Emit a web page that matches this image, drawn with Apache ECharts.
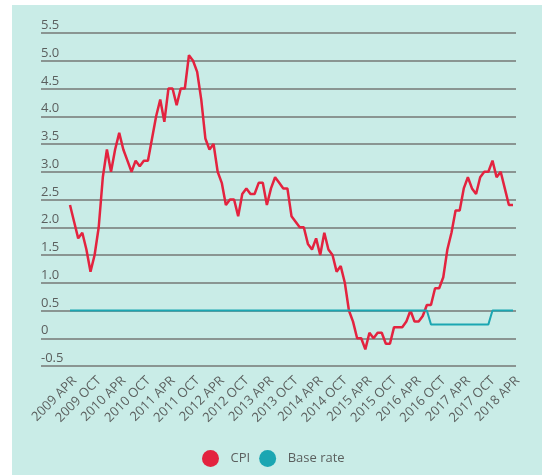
<!DOCTYPE html>
<html><head><meta charset="utf-8">
<script src="https://cdn.jsdelivr.net/npm/echarts@6/dist/echarts.min.js"></script>
<style>
html,body{margin:0;padding:0;background:#fff;width:542px;height:475px;overflow:hidden}
#c{position:absolute;left:12px;top:5px;width:530px;height:470px;background:#c9ece7}
</style></head><body><div id="c"></div>
<script>
// Monthly categories, April 2009 to April 2018
const MONTHS = ['JAN','FEB','MAR','APR','MAY','JUN','JUL','AUG','SEP','OCT','NOV','DEC'];
const categories = [];
for (let k = 0; k < 109; k++) {
  const m = 3 + k;
  categories.push((2009 + Math.floor(m / 12)) + ' ' + MONTHS[m % 12]);
}
const tickLabels = ['2009 APR','2009 OCT','2010 APR','2010 OCT','2011 APR','2011 OCT','2012 APR','2012 OCT',
  '2013 APR','2013 OCT','2014 APR','2014 OCT','2015 APR','2015 OCT','2016 APR','2016 OCT','2017 APR','2017 OCT','2018 APR'];
const cpi = [
  2.4,2.1,1.8,1.9,1.6,1.2,1.5,2.0,2.9,
  3.4,3.0,3.4,3.7,3.4,3.2,3.0,3.2,3.1,3.2,3.2,3.6,
  4.0,4.3,3.9,4.5,4.5,4.2,4.5,4.5,5.1,5.0,4.8,4.3,
  3.6,3.4,3.5,3.0,2.8,2.4,2.5,2.5,2.2,2.6,2.7,2.6,
  2.6,2.8,2.8,2.4,2.7,2.9,2.8,2.7,2.7,2.2,2.1,2.0,
  2.0,1.7,1.6,1.8,1.5,1.9,1.6,1.5,1.2,1.3,1.0,0.5,
  0.3,0.0,0.0,-0.2,0.1,0.0,0.1,0.1,-0.1,-0.1,0.2,0.2,
  0.2,0.3,0.5,0.3,0.3,0.4,0.6,0.6,0.9,0.9,1.1,1.6,
  1.9,2.3,2.3,2.7,2.9,2.7,2.6,2.9,3.0,3.0,3.2,2.9,
  3.0,2.7,2.4,2.4
];
const baseRate = [];
for (let k = 0; k < 109; k++) baseRate.push(k >= 88 && k <= 102 ? 0.25 : 0.5);
const yTicks = [-0.5, 0, 0.5, 1, 1.5, 2, 2.5, 3, 3.5, 4, 4.5, 5, 5.5];

const FONT = 'Open Sans';
const TXT = '#5b5f5e';
const chart = echarts.init(document.getElementById('c'), null, {renderer: 'canvas'});
chart.setOption({
  animation: false,
  grid: [
    {left: 29, right: 26, top: 28, bottom: 109},
    {left: 58, right: 29, top: 28, bottom: 109}
  ],
  xAxis: [
    {gridIndex: 0, type: 'value', min: 0, max: 1, show: false},
    {gridIndex: 1, type: 'category', data: categories, boundaryGap: false,
     axisLine: {show: false}, axisTick: {show: false}, splitLine: {show: false},
     axisLabel: {interval: 5, rotate: 45, margin: 8, verticalAlign: 'top', color: TXT, fontSize: 13, fontFamily: FONT,
       formatter: (v, i) => tickLabels[i / 6] || v}}
  ],
  yAxis: [
    {gridIndex: 0, type: 'value', min: yTicks[0], max: yTicks[yTicks.length - 1], interval: 0.5,
     axisLine: {show: false}, axisTick: {show: false},
     splitLine: {lineStyle: {color: '#8a9592', width: 2}},
     axisLabel: {inside: true, margin: 0, align: 'left', verticalAlign: 'bottom', padding: [0, 0, 1, 0],
       color: TXT, fontSize: 13, fontFamily: FONT,
       formatter: v => Math.abs(v) < 1e-9 ? '0' : v.toFixed(1)}},
    {gridIndex: 1, type: 'value', min: yTicks[0], max: yTicks[yTicks.length - 1], interval: 0.5, show: false}
  ],
  legend: {
    data: ['CPI', 'Base rate'], left: 185, top: 440, icon: 'circle',
    itemWidth: 30, itemHeight: 17, itemGap: 9,
    itemStyle: {borderWidth: 0},
    textStyle: {color: TXT, fontSize: 13, fontFamily: FONT}
  },
  series: [
    {name: 'CPI', type: 'line', xAxisIndex: 1, yAxisIndex: 1, data: cpi, showSymbol: false, symbol: 'none',
     color: '#e3233f', lineStyle: {color: '#e3233f', width: 2.5}},
    {name: 'Base rate', type: 'line', xAxisIndex: 1, yAxisIndex: 1, data: baseRate, showSymbol: false, symbol: 'none',
     color: '#1ba6b2', lineStyle: {color: '#1ba6b2', width: 2}}
  ]
});
</script></body></html>
